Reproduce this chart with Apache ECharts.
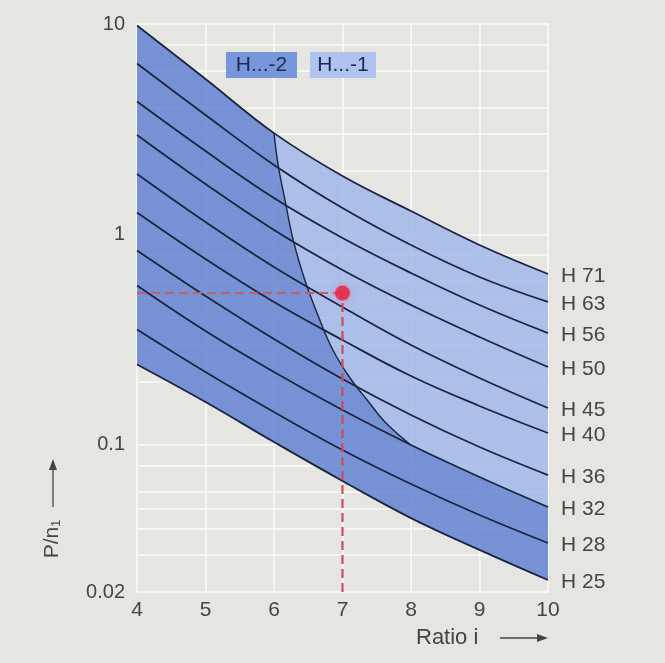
<!DOCTYPE html>
<html><head><meta charset="utf-8">
<script src="https://cdn.jsdelivr.net/npm/echarts@6/dist/echarts.min.js"></script>
<style>html,body{margin:0;padding:0;background:#e5e5e2;} #c{width:665px;height:663px;}</style>
</head><body><div id="c"></div>
<script>
// ---- data ----
const ratios = [4, 5, 6, 7, 8, 9, 10];
const sizeNames = ['H 71', 'H 63', 'H 56', 'H 50', 'H 45', 'H 40', 'H 36', 'H 32', 'H 28', 'H 25'];
const H71 = [9.84, 5.48, 3.03, 1.895, 1.292, 0.891, 0.649];
const H63 = [6.49, 3.695, 2.14, 1.336, 0.891, 0.628, 0.478];
const H56 = [4.283, 2.492, 1.49, 0.962, 0.656, 0.462, 0.340];
const H50 = [2.969, 1.737, 1.050, 0.678, 0.462, 0.3256, 0.2345];
const H45 = [1.9375, 1.146, 0.700, 0.452, 0.2983, 0.2079, 0.1497];
const H40 = [1.2715, 0.7645, 0.4776, 0.3151, 0.2125, 0.1531, 0.1139];
const H36 = [0.839, 0.510, 0.3186, 0.2056, 0.1387, 0.0977, 0.0719];
const H32 = [0.572, 0.3477, 0.222, 0.1465, 0.0999, 0.0704, 0.0507];
const H28 = [0.3534, 0.222, 0.1433, 0.0946, 0.0652, 0.04645, 0.0342];
const H25 = [0.241, 0.1599, 0.1032, 0.0674, 0.0449, 0.0317, 0.0228];
const boundaryRatio = [6.0, 6.06, 6.16, 6.28, 6.45, 6.64, 6.86, 7.11, 7.36, 7.62, 7.98];
const boundaryPower = [3.03, 2.14, 1.458, 0.941, 0.6075, 0.4143, 0.2825, 0.2079, 0.1634, 0.1285, 0.101];
const exampleRatio = 7;
const examplePower = 0.527;
const xTickValues = [4, 5, 6, 7, 8, 9, 10];
const yLabelValues = [0.02, 0.1, 1, 10];
const yGridValues = [0.02, 0.03, 0.04, 0.05, 0.06, 0.08, 0.1, 0.2, 0.3, 0.4, 0.5, 0.6, 0.8, 1, 2, 3, 4, 6, 8, 10];
const legendNames = ['H...-2', 'H...-1'];

// ---- build ----
const curves = [H71, H63, H56, H50, H45, H40, H36, H32, H28, H25];
const pairs = (xs, ys) => xs.map((x, i) => [x, ys[i]]);
const boundaryPts = pairs(boundaryRatio, boundaryPower);
const topPts = pairs(ratios, H71), midPts = pairs(ratios, H32), botPts = pairs(ratios, H25);

// darker region (H...-2): left of the boundary curve and below H32 right of it
const darkPts = [].concat(topPts.slice(0, 3), boundaryPts.slice(1), midPts.slice(4), botPts.slice().reverse());
// lighter region (H...-1)
const lightPts = [].concat(topPts.slice(2), midPts.slice(4).reverse(), boundaryPts.slice().reverse());

const FONT = 'Liberation Sans, Arial, sans-serif';
const TXT = '#454545';
const DARK = 'rgba(96,130,210,0.84)';
const LIGHT = 'rgba(160,184,234,0.84)';

function polygonSeries(name, pts, color) {
  return {
    type: 'custom', name: name, coordinateSystem: 'cartesian2d', silent: true, z: 1,
    data: [[ratios[0], 1]],
    renderItem: function (params, api) {
      return { type: 'polygon', shape: { points: pts.map(p => api.coord(p)) }, style: { fill: color } };
    }
  };
}

const seriesList = [polygonSeries(legendNames[0], darkPts, DARK), polygonSeries(legendNames[1], lightPts, LIGHT)];
curves.forEach((c, i) => {
  seriesList.push({
    type: 'line', name: sizeNames[i], data: pairs(ratios, c), smooth: 0.4, symbol: 'none', z: 3,
    lineStyle: { color: '#1b2440', width: 1.8 },
    endLabel: { show: true, formatter: p => p.seriesName, distance: 13, color: TXT, fontSize: 21, fontFamily: FONT, offset: [0, 2] },
    silent: true
  });
});
seriesList.push({
  type: 'line', name: 'boundary', data: boundaryPts, smooth: 0.4, symbol: 'none', z: 3,
  lineStyle: { color: '#1b2440', width: 1.4 }, silent: true
});
seriesList.push({
  type: 'line', name: 'exampleH', data: [[ratios[0], examplePower], [exampleRatio, examplePower]], symbol: 'none', z: 4,
  lineStyle: { color: '#bf5f72', width: 2.2, type: [9, 5] }, silent: true
});
seriesList.push({
  type: 'line', name: 'exampleV', data: [[exampleRatio, yLabelValues[0]], [exampleRatio, examplePower]], symbol: 'none', z: 4,
  lineStyle: { color: '#d04a5e', width: 2.2, type: [9, 5] }, silent: true
});
seriesList.push({
  type: 'scatter', name: 'example', data: [[exampleRatio, examplePower]], symbolSize: 15, z: 5,
  itemStyle: { color: '#e3203c', shadowColor: 'rgba(255,110,140,0.9)', shadowBlur: 6 }, silent: true
});

const chart = echarts.init(document.getElementById('c'), null, { renderer: 'canvas' });
chart.setOption({
  backgroundColor: '#e5e5e2',
  animation: false,
  grid: { left: 137, right: 117, top: 24, bottom: 71 },
  xAxis: {
    type: 'value', min: 4, max: 10, interval: 1,
    axisLine: { show: false }, axisTick: { show: false },
    axisLabel: { color: TXT, fontSize: 21, fontFamily: FONT, margin: 8 },
    splitLine: { show: true, lineStyle: { color: '#fbfbfb', width: 1.6 } }
  },
  yAxis: {
    type: 'log', logBase: 10, min: 0.02, max: 10,
    axisLine: { show: false },
    axisTick: { show: false, customValues: yGridValues },
    axisLabel: { customValues: yLabelValues, color: TXT, fontSize: 20, fontFamily: FONT, margin: 12,
      formatter: v => String(+(+v).toPrecision(3)) },
    splitLine: { show: true, lineStyle: { color: '#fbfbfb', width: 1.6 } },
    minorSplitLine: { show: false }
  },
  graphic: [
    { type: 'rect', shape: { x: 226, y: 52, width: 71, height: 26 }, style: { fill: '#7896da' }, z: 10 },
    { type: 'text', x: 261.5, y: 65.5, style: { text: legendNames[0], fill: '#1b2a55', font: '21px ' + FONT, align: 'center', verticalAlign: 'middle' }, z: 11 },
    { type: 'rect', shape: { x: 310, y: 52, width: 66, height: 26 }, style: { fill: '#b0c2ee' }, z: 10 },
    { type: 'text', x: 343, y: 65.5, style: { text: legendNames[1], fill: '#1b2a55', font: '21px ' + FONT, align: 'center', verticalAlign: 'middle' }, z: 11 },
    { type: 'text', x: 416, y: 638, style: { text: 'Ratio i', fill: TXT, font: '22px ' + FONT, align: 'left', verticalAlign: 'middle' } },
    { type: 'line', shape: { x1: 500, y1: 638, x2: 540, y2: 638 }, style: { stroke: TXT, lineWidth: 1.3 } },
    { type: 'polygon', shape: { points: [[548, 638], [537, 634], [537, 642]] }, style: { fill: TXT } },
    { type: 'text', x: 52, y: 539, rotation: Math.PI / 2, style: { text: 'P/n\u2081', fill: TXT, font: '21px ' + FONT, align: 'center', verticalAlign: 'middle' } },
    { type: 'line', shape: { x1: 53, y1: 507, x2: 53, y2: 468 }, style: { stroke: TXT, lineWidth: 1.3 } },
    { type: 'polygon', shape: { points: [[53, 459], [49, 470], [57, 470]] }, style: { fill: TXT } }
  ],
  series: seriesList
});
</script></body></html>
